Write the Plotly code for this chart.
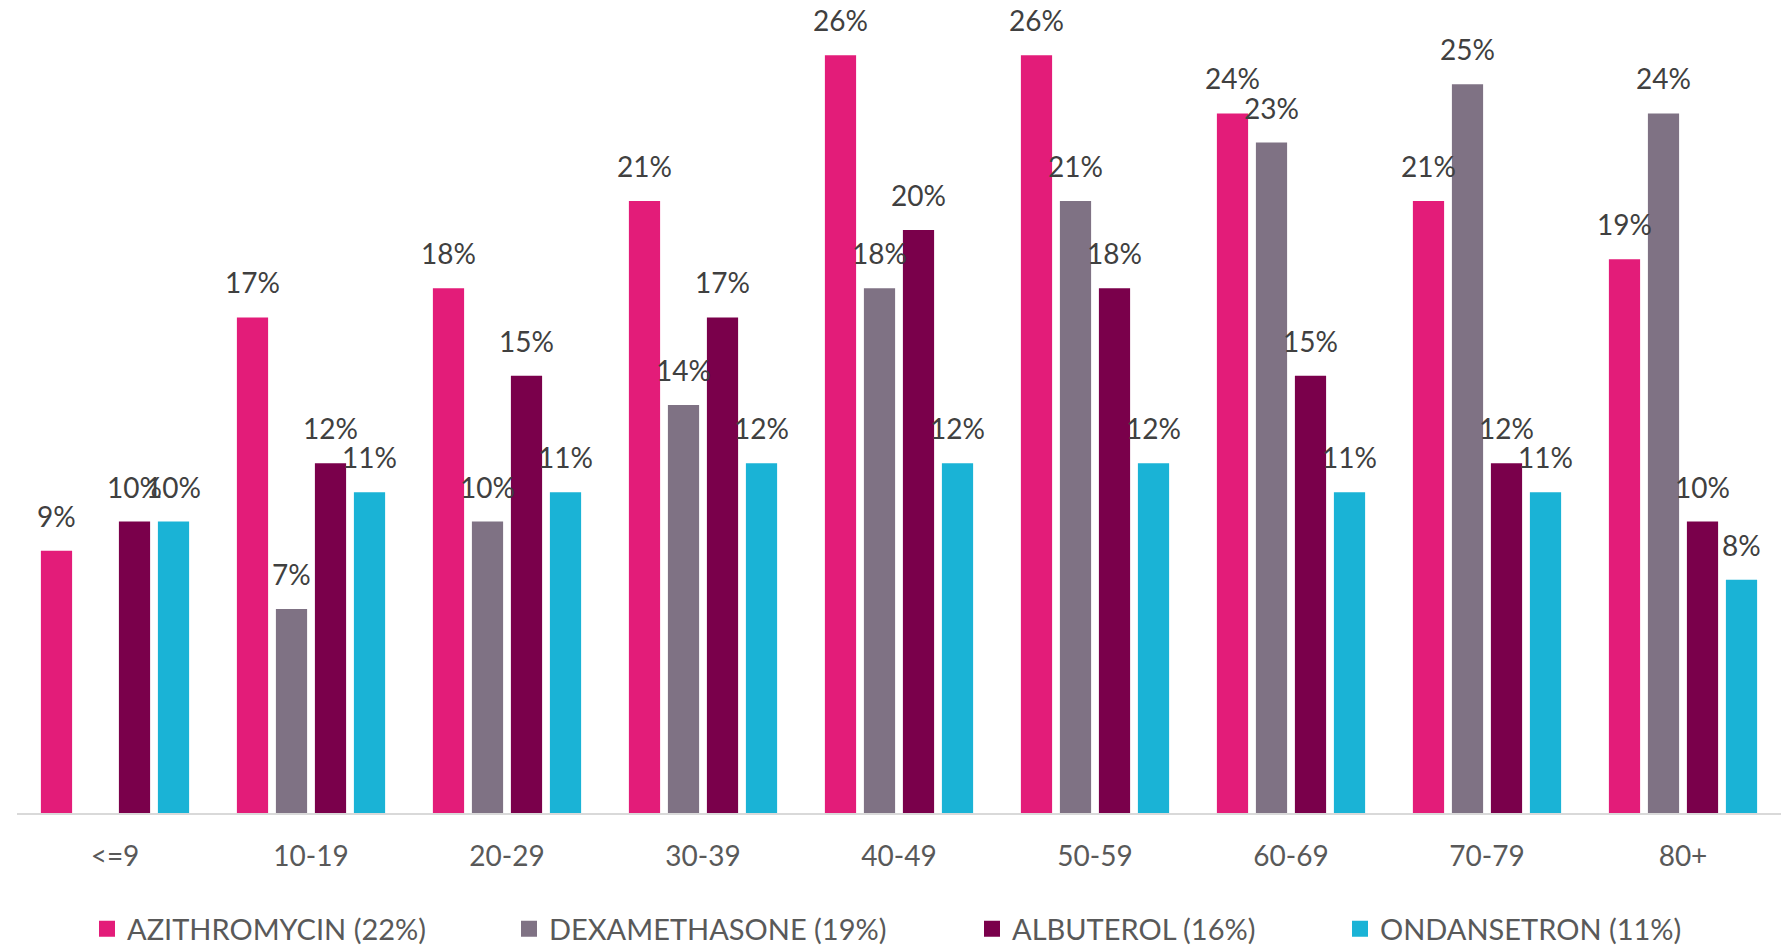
import plotly.graph_objects as go

categories = ["<=9", "10-19", "20-29", "30-39", "40-49", "50-59", "60-69", "70-79", "80+"]
azithromycin = [0.09, 0.17, 0.18, 0.21, 0.26, 0.26, 0.24, 0.21, 0.19]
dexamethasone = [None, 0.07, 0.10, 0.14, 0.18, 0.21, 0.23, 0.25, 0.24]
albuterol = [0.10, 0.12, 0.15, 0.17, 0.20, 0.18, 0.15, 0.12, 0.10]
ondansetron = [0.10, 0.11, 0.11, 0.12, 0.12, 0.12, 0.11, 0.11, 0.08]
series_names = ["AZITHROMYCIN (22%)", "DEXAMETHASONE (19%)", "ALBUTEROL (16%)", "ONDANSETRON (11%)"]
series_values = [azithromycin, dexamethasone, albuterol, ondansetron]
colors = ["#E31C79", "#7F7284", "#7A004B", "#1AB3D6"]

W, H = 1790, 946
ML, MR, MT, MB = 17, 9, 26, 133
BARGAP = 0.204
FONT = "Lato, 'Open Sans', sans-serif"

fig = go.Figure()
for name, vals, col in zip(series_names, series_values, colors):
    fig.add_trace(go.Bar(x=categories, y=vals, name=name, marker_color=col,
                         marker_line_width=0, showlegend=False, hoverinfo="skip"))

# legend proxies (larger square icons)
legend_ids = ["legend", "legend2", "legend3", "legend4"]
for name, col, lid in zip(series_names, colors, legend_ids):
    fig.add_trace(go.Scatter(x=[None], y=[None], mode="markers", name=name,
                             marker=dict(symbol="square", size=17, color=col),
                             showlegend=True, legend=lid))

# data labels
plot_w = W - ML - MR
cat_px = plot_w / len(categories)
slot = cat_px * (1 - BARGAP) / len(series_values)
n = len(series_values)
for i, vals in enumerate(series_values):
    dx = (i - (n - 1) / 2) * slot
    for c, v in zip(categories, vals):
        if v is None:
            continue
        fig.add_annotation(x=c, y=v, text=f"{round(v*100)}%", showarrow=False,
                           xshift=dx, yshift=16, yanchor="bottom",
                           font=dict(family=FONT, size=28, color="#404040"))

legend_left_px = [100, 522, 985, 1353]
layout_legends = {}
for lid, px in zip(legend_ids, legend_left_px):
    layout_legends[lid] = dict(orientation="h", xref="container", yref="container",
                               x=(px - 13) / W, xanchor="left", y=1 - 929 / H, yanchor="middle",
                               font=dict(family=FONT, size=29, color="#595959"),
                               bgcolor="rgba(0,0,0,0)", itemsizing="trace")

fig.update_layout(
    width=W, height=H,
    margin=dict(l=ML, r=MR, t=MT, b=MB, pad=0),
    paper_bgcolor="white", plot_bgcolor="white",
    barmode="group", bargap=BARGAP, bargroupgap=0.2,
    font=dict(family=FONT, size=28, color="#595959"),
    xaxis=dict(showline=True, linecolor="#D9D9D9", linewidth=2, ticks="outside",
               ticklen=17, tickcolor="rgba(0,0,0,0)", showgrid=False,
               tickfont=dict(family=FONT, size=28, color="#595959")),
    yaxis=dict(range=[0, 0.27], visible=False, showgrid=False, zeroline=False),
    **layout_legends,
)

fig.write_html("out.html", config={"displayModeBar": False},
               post_script="document.body.style.margin='0';")
